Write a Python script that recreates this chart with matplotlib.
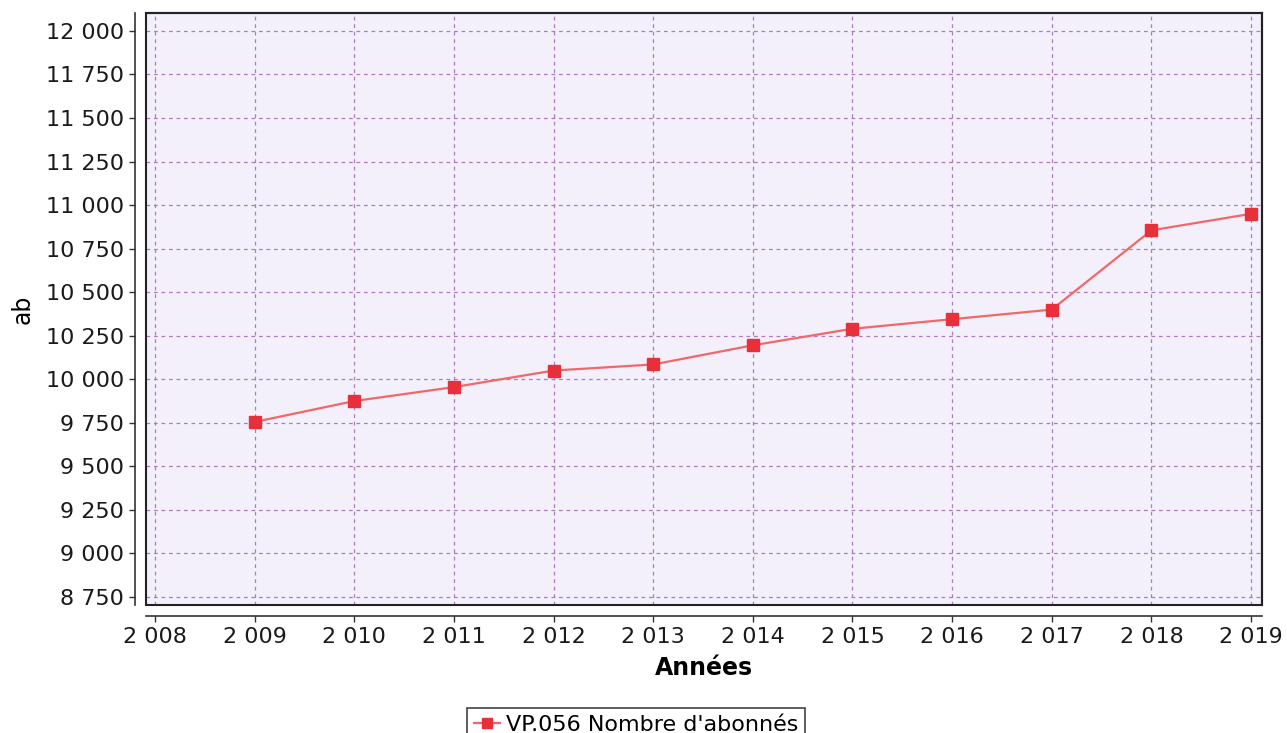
import matplotlib
matplotlib.use("Agg")
import matplotlib.pyplot as plt
from matplotlib.patches import Rectangle
from matplotlib.ticker import FuncFormatter

years = [2009, 2010, 2011, 2012, 2013, 2014, 2015, 2016, 2017, 2018, 2019]
abonnes = [9755, 9875, 9955, 10050, 10085, 10195, 10290, 10345, 10400, 10855, 10950]
yticks = list(range(8750, 12001, 250))
xticks = list(range(2008, 2020))


def spaced(v, pos=None):
    return f"{int(v):,}".replace(",", " ")


fig = plt.figure(figsize=(12.87, 7.33), dpi=100)
ax = fig.add_axes([146 / 1287, 1 - 605 / 733, 1116 / 1287, 592 / 733])
ax.set_facecolor("#f3effb")

ax.plot(years, abonnes, color="#f06868", lw=1.6, marker="s", ms=9,
        mfc="#e8303a", mec="#e8303a", label="VP.056 Nombre d'abonnés", zorder=3)

ax.set_xlim(2007.91, 2019.11)
ax.set_ylim(8704, 12103)
ax.set_xticks(xticks)
ax.set_yticks(yticks)
ax.xaxis.set_major_formatter(FuncFormatter(spaced))
ax.yaxis.set_major_formatter(FuncFormatter(spaced))
ax.tick_params(labelsize=16, length=4, width=1, color="#333333", pad=4,
               labelcolor="#1a1a1a")

ax.grid(True, color="#b07cc0", ls=(0, (3, 3)), lw=0.9)
ax.set_axisbelow(True)

# offset axis lines, plot area border drawn separately
for side in ("left", "bottom"):
    ax.spines[side].set_position(("outward", 8))
    ax.spines[side].set_color("#333333")
    ax.spines[side].set_linewidth(1.2)
for side in ("top", "right"):
    ax.spines[side].set_color("#222222")
    ax.spines[side].set_linewidth(1.5)
ax.add_patch(Rectangle((0, 0), 1, 1, transform=ax.transAxes, fill=False,
                       ec="#222222", lw=1.5, clip_on=False, zorder=4))

ax.set_xlabel("Années", fontsize=17, fontweight="bold", labelpad=6)
ax.set_ylabel("ab", fontsize=17, labelpad=8)

leg = fig.legend(loc="upper center", bbox_to_anchor=(636 / 1287, 1 - 697 / 733),
                 fontsize=16, frameon=True, fancybox=False, handlelength=1.2,
                 handletextpad=0.25, borderpad=0.3, markerscale=0.8)
leg.get_frame().set_edgecolor("#111111")
leg.get_frame().set_linewidth(1.2)

fig.savefig("out.png", dpi=100)
